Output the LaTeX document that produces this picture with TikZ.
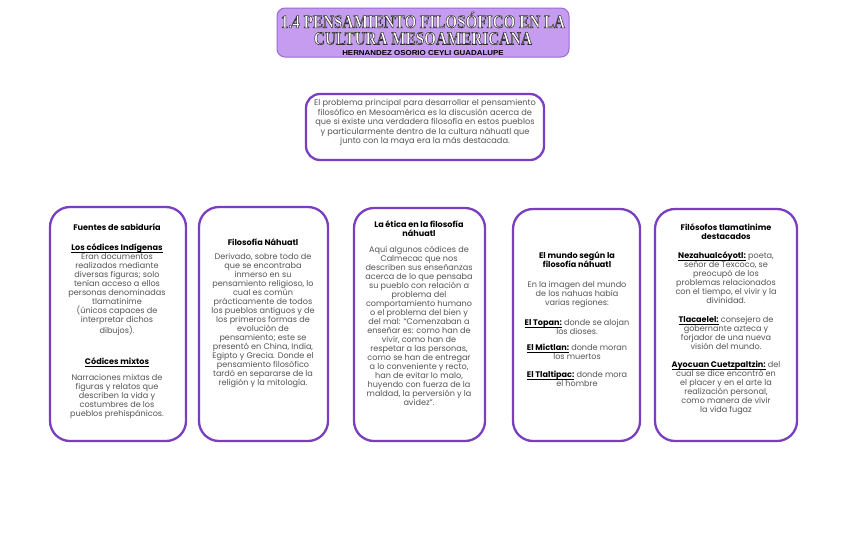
\documentclass[tikz,border=0pt]{standalone}
\usepackage{fontspec}
\setmainfont{Poppins}
\newfontfamily\titlefont{Liberation Serif}
\newfontfamily\authfont{Liberation Sans}
\definecolor{cardline}{HTML}{7A3FC0}
\definecolor{titlefill}{HTML}{C59CF0}
\definecolor{titleline}{HTML}{9A6AD6}
\definecolor{bodygray}{HTML}{555555}
\tikzset{
  card/.style={draw=cardline, line width=2.3pt, rounded corners=20pt, fill=white},
  body/.style={anchor=north, inner sep=0pt, align=center, text=bodygray,
    font=\fontsize{8.1}{9}\selectfont},
}
\newcommand{\hd}[1]{{\color{black}\textbf{#1}}}
\newcommand{\ul}[1]{{\color{black}\setbox0\hbox{\textbf{#1}}\rlap{\rule[-1.4pt]{\wd0}{0.5pt}}\box0}}
\newcommand{\outl}[1]{{\color{white}\special{pdf:code 2 Tr 0.6 w 0.2 0.2 0.2 RG}#1\special{pdf:code 0 Tr}}}
\begin{document}
\begin{tikzpicture}[x=1pt,y=-1pt]
\useasboundingbox (0,0) rectangle (848,549);
\fill[white] (0,0) rectangle (848,549);
% title
\node[draw=titleline, fill=titlefill, line width=1pt, rounded corners=8pt,
  minimum width=292pt, minimum height=49pt, inner sep=0pt] (title) at (423,32.5) {};
\node[inner sep=0pt] (t1) at (423,20) {\titlefont\bfseries\fontsize{18.5}{18.5}\selectfont\scalebox{0.82}[1]{\outl{1.4 PENSAMIENTO FILOSÓFICO EN LA}}};
\node[inner sep=0pt] (t2) at (423,38.5) {\titlefont\bfseries\fontsize{18.5}{18.5}\selectfont\scalebox{0.82}[1]{\outl{CULTURA MESOAMERICANA}}};
\node[inner sep=0pt] (auth) at (423,53) {\authfont\bfseries\fontsize{7.2}{7.2}\selectfont\scalebox{1.1}[1]{HERNANDEZ OSORIO CEYLI GUADALUPE}};
% intro
\node[card, rounded corners=14pt, minimum width=238pt, minimum height=66pt, inner sep=0pt] (intro) at (425,127) {};
\node[body, font=\fontsize{8.2}{9.5}\selectfont] (introtext) at (425,99.5) {El problema principal para desarrollar el pensamiento\\
filosófico en Mesoamérica es la discusión acerca de\\
que si existe una verdadera filosofía en estos pueblos\\
y particularmente dentro de la cultura náhuatl que\\
junto con la maya era la más destacada.};
% cards
\node[card, minimum width=136pt, minimum height=234pt] (b1) at (118,324) {};
\node[card, minimum width=129pt, minimum height=234pt] (b2) at (263.5,324) {};
\node[card, minimum width=131pt, minimum height=233pt] (b3) at (419.5,324.5) {};
\node[card, minimum width=127pt, minimum height=232pt] (b4) at (576.5,325) {};
\node[card, minimum width=142pt, minimum height=232pt] (b5) at (726,325) {};
% card 1
\node[body] (b1text) at (117,224) {\hd{Fuentes de sabiduría}\\[11pt]
\ul{Los códices Indígenas}\\
Eran documentos\\
realizados mediante\\
diversas figuras; solo\\
tenían acceso a ellos\\
personas denominadas\\
tlamatinime\\
(únicos capaces de\\
interpretar dichos\\
dibujos).\\[22pt]
\ul{Códices mixtos}\\[7pt]
Narraciones mixtas de\\
figuras y relatos que\\
describen la vida y\\
costumbres de los\\
pueblos prehispánicos.};
% card 2
\node[body] (b2text) at (263,239) {\hd{Filosofía Náhuatl}\\[5pt]
Derivado, sobre todo de\\
que se encontraba\\
inmerso en su\\
pensamiento religioso, lo\\
cual es común\\
prácticamente de todos\\
los pueblos antiguos y de\\
los primeros formas de\\
evolución de\\
pensamiento; este se\\
presentó en China, India,\\
Egipto y Grecia. Donde el\\
pensamiento filosófico\\
tardó en separarse de la\\
religión y la mitología.};
% card 3
\node[body] (b3text) at (419,221) {\hd{La ética en la filosofía}\\
\hd{náhuatl}\\[7pt]
Aquí algunos códices de\\
Calmecac que nos\\
describen sus enseñanzas\\
acerca de lo que pensaba\\
su pueblo con relación a\\
problema del\\
comportamiento humano\\
o el problema del bien y\\
del mal: ``Comenzaban a\\
enseñar es: como han de\\
vivir, como han de\\
respetar a las personas,\\
como se han de entregar\\
a lo conveniente y recto,\\
han de evitar lo malo,\\
huyendo con fuerza de la\\
maldad, la perversión y la\\
avidez''.};
% card 4
\node[body] (b4text) at (577,252) {\hd{El mundo según la}\\
\hd{filosofía náhuatl}\\[11pt]
En la imagen del mundo\\
de los nahuas había\\
varias regiones:\\[11pt]
\ul{El Topan:} donde se alojan\\
los dioses.\\[7pt]
\ul{El Mictlan:} donde moran\\
los muertos\\[9pt]
\ul{El Tlaltipac:} donde mora\\
el hombre};
% card 5
\node[body] (b5text) at (726,224) {\hd{Filósofos tlamatinime}\\
\hd{destacados}\\[10pt]
\ul{Nezahualcóyotl:} poeta,\\
señor de Texcoco, se\\
preocupó de los\\
problemas relacionados\\
con el tiempo, el vivir y la\\
divinidad.\\[10pt]
\ul{Tlacaelel:} consejero de\\
gobernante azteca y\\
forjador de una nueva\\
visión del mundo.\\[9pt]
\ul{Ayocuan Cuetzpaltzin:} del\\
cual se dice encontró en\\
el placer y en el arte la\\
realización personal,\\
como manera de vivir\\
la vida fugaz};
\end{tikzpicture}
\end{document}
